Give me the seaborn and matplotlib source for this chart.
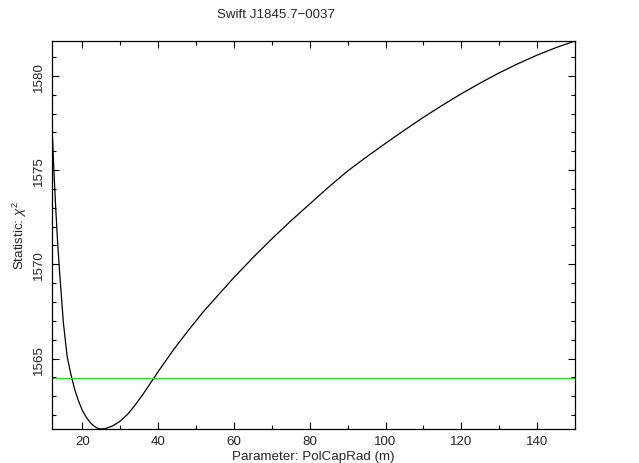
import numpy as np
import pandas as pd
import matplotlib
matplotlib.use("Agg")
import matplotlib.pyplot as plt
from matplotlib.ticker import MultipleLocator
import seaborn as sns

# Data
pol_cap_rad = [12, 12.5, 13, 13.5, 14, 14.5, 15, 16, 17, 18, 19, 20, 21, 22, 23, 24, 25, 26,
               28, 30, 32, 34, 36, 38, 40, 44, 48, 52, 56, 60, 65, 70, 75, 80, 85, 90, 95,
               100, 105, 110, 115, 120, 125, 130, 135, 140, 145, 150]
chi2 = [1577.3, 1575.0, 1572.9, 1571.1, 1569.6, 1568.25, 1566.9, 1565.1, 1564.15, 1563.35,
        1562.75, 1562.25, 1561.9, 1561.62, 1561.43, 1561.3, 1561.26, 1561.28,
        1561.42, 1561.68, 1562.05, 1562.55, 1563.1, 1563.7, 1564.3, 1565.45, 1566.5,
        1567.5, 1568.4, 1569.3, 1570.35, 1571.35, 1572.3, 1573.2, 1574.1, 1574.95,
        1575.7, 1576.42, 1577.12, 1577.8, 1578.44, 1579.05, 1579.62, 1580.16, 1580.65,
        1581.1, 1581.5, 1581.85]
conf_level = 1563.97
title = "Swift J1845.7\u22120037"
xlabel = "Parameter: PolCapRad (m)"
ylabel = "Statistic: $\\chi^2$"

df = pd.DataFrame({"x": pol_cap_rad, "y": chi2})

sns.set_style("ticks")
plt.rcParams["font.family"] = ["Liberation Sans", "DejaVu Sans"]
plt.rcParams["mathtext.fontset"] = "custom"
plt.rcParams["mathtext.rm"] = "Liberation Sans"
plt.rcParams["mathtext.it"] = "Liberation Sans:italic"

fs = 9.6

fig = plt.figure(figsize=(6.39, 4.64), dpi=100)
ax = fig.add_axes([52 / 639, 34 / 464, (575 - 52) / 639, (430 - 42) / 464])

sns.lineplot(data=df, x="x", y="y", ax=ax, color="black", linewidth=0.9, sort=False)
ax.axhline(conf_level, color="#22dd22", linewidth=0.8)

ax.set_xlim(12, 150)
ax.set_ylim(min(chi2), max(chi2))

ax.xaxis.set_major_locator(MultipleLocator(20))
ax.xaxis.set_minor_locator(MultipleLocator(10))
ax.yaxis.set_major_locator(MultipleLocator(5))
ax.yaxis.set_minor_locator(MultipleLocator(1))
ax.tick_params(which="both", direction="in", top=True, right=True, color="black",
               width=0.8, labelsize=fs)
ax.tick_params(which="major", length=5)
ax.tick_params(which="minor", length=2.7)
ax.tick_params(axis="x", pad=4.5)
ax.tick_params(axis="y", pad=5)
for lab in ax.get_yticklabels():
    lab.set_rotation(90)
    lab.set_va("center")
for s in ax.spines.values():
    s.set_color("black")
    s.set_linewidth(0.9)

ax.set_xlabel(xlabel, fontsize=fs, labelpad=2)
ax.set_ylabel(ylabel, fontsize=fs, labelpad=3)
fig.text(275.5 / 639, 1 - 15 / 464, title, fontsize=fs, ha="center", va="center")

fig.savefig("out.png", dpi=100)
